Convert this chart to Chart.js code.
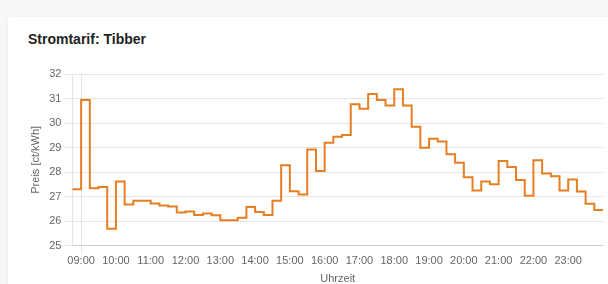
<!DOCTYPE html>
<html>
<head>
<meta charset="utf-8">
<script src="https://cdn.jsdelivr.net/npm/chart.js@4"></script>
<style>
  html, body { margin: 0; padding: 0; background: #f6f7f9; width: 608px; height: 284px; overflow: hidden; }
  .card {
    position: absolute; left: 8px; top: 17px; width: 640px; height: 320px;
    background: #fff; border-radius: 4px;
    box-shadow: 0 1px 3px rgba(0,0,0,0.08);
  }
  .title {
    position: absolute; left: 28px; top: 31px;
    font: bold 14px "Liberation Sans", Arial, sans-serif; color: #222;
  }
  .wrap { position: absolute; left: 16px; top: 62px; width: 594px; height: 228px; }
</style>
</head>
<body>
<div class="card"></div>
<div class="title">Stromtarif: Tibber</div>
<div class="wrap"><canvas id="priceChart"></canvas></div>
<script>
// --- Data: 15-min prices from 08:45 to 00:00 ---
const startMinutes = 8 * 60 + 45;
const slotCount = 62;
const timeLabels = [];
for (let i = 0; i < slotCount; i++) {
    const m = (startMinutes + i * 15) % (24 * 60);
    const hh = String(Math.floor(m / 60)).padStart(2, "0");
    const mm = String(m % 60).padStart(2, "0");
    timeLabels.push(hh + ":" + mm);
}

const prices = [
    27.30, 30.94, 27.34, 27.39, 25.69, 27.61, 26.68, 26.83, 26.83, 26.72,
    26.64, 26.60, 26.35, 26.39, 26.25, 26.31, 26.24, 26.03, 26.03, 26.14,
    26.57, 26.37, 26.25, 26.83, 28.28, 27.22, 27.08, 28.92, 28.04, 29.20,
    29.44, 29.51, 30.77, 30.58, 31.18, 30.94, 30.72, 31.38, 30.72, 29.85,
    28.99, 29.36, 29.25, 28.73, 28.38, 27.79, 27.25, 27.61, 27.50, 28.45,
    28.21, 27.68, 27.03, 28.48, 27.94, 27.83, 27.25, 27.70, 27.21, 26.71,
    26.45, 26.45
];

const yMin = 25;
const yMax = 32;

const tickFont = { family: "'Liberation Sans', Arial, sans-serif", size: 11 };

// --- Chart.js setup ---
const ctx = document.getElementById("priceChart").getContext("2d");
const priceChart = new Chart(ctx, {
    type: "line",
    data: {
        labels: timeLabels,
        datasets: [{
            label: "Preis",
            data: prices,
            borderColor: "#e67e22",
            borderWidth: 2,
            stepped: true,
            pointRadius: 0,
            fill: false
        }]
    },
    options: {
        responsive: true,
        maintainAspectRatio: false,
        animation: false,
        layout: { padding: { left: 9, right: 7, top: 12, bottom: 0 } },
        plugins: {
            legend: { display: false },
            tooltip: { enabled: false }
        },
        scales: {
            x: {
                title: { display: true, text: "Uhrzeit", color: "#666", font: tickFont },
                grid: {
                    color: (c) => (c.index === 1 ? "rgba(0,0,0,0.1)" : "transparent")
                },
                ticks: {
                    autoSkip: false,
                    maxRotation: 0,
                    padding: 1,
                    color: "#666",
                    font: tickFont,
                    callback: function (value, index) {
                        const lab = timeLabels[index];
                        return lab.endsWith(":00") && index < slotCount - 1 ? lab : "";
                    }
                }
            },
            y: {
                min: yMin,
                max: yMax,
                title: { display: true, text: "Preis [ct/kWh]", color: "#666", font: tickFont },
                ticks: { stepSize: 1, color: "#666", font: tickFont }
            }
        }
    }
});
</script>
</body>
</html>
